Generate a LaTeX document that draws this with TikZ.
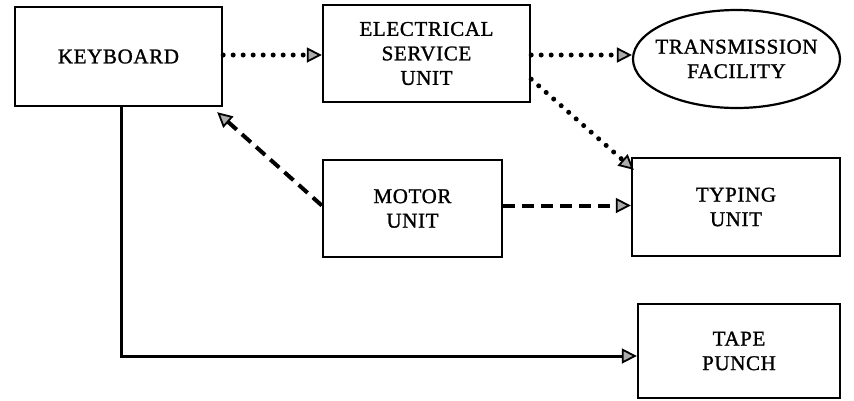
\documentclass[tikz,border=0pt]{standalone}
\usepackage{fontspec}
\setmainfont{Liberation Serif}[LetterSpace=3,FakeBold=1.2]
\usetikzlibrary{arrows.meta,shapes.geometric,calc}
\begin{document}
\begin{tikzpicture}[x=1pt,y=-1pt,
  box/.style={draw, line width=2.4pt, rectangle, inner sep=0pt, align=center,
    font=\fontsize{21}{24.5}\selectfont},
  oval/.style={draw, line width=2.2pt, ellipse, inner xsep=-10pt, inner ysep=0pt, align=center,
    font=\fontsize{21}{24.5}\selectfont},
  tip/.style={-{Triangle[length=15pt,width=15pt,fill=gray!65,line width=1.8pt]}},
  dotline/.style={tip, line width=5pt, line cap=round, dash pattern=on 0pt off 10pt},
  dashline/.style={tip, line width=4pt, dash pattern=on 12pt off 7pt},
  solidline/.style={tip, line width=3pt}]
\useasboundingbox (0,0) rectangle (854,400);
\node[box, minimum width=207pt, minimum height=99pt] (kb) at (118.5,56.5) {KEYBOARD};
\node[box, minimum width=207pt, minimum height=97pt] (esu) at (426.5,53.5) {ELECTRICAL\\SERVICE\\UNIT};
\node[oval, minimum width=207pt, minimum height=98pt] (tf) at (736.5,59) {TRANSMISSION\\FACILITY};
\node[box, minimum width=179pt, minimum height=97pt] (mu) at (412.5,208.5) {MOTOR\\UNIT};
\node[box, minimum width=208pt, minimum height=98pt] (tu) at (736,207) {TYPING\\UNIT};
\node[box, minimum width=202pt, minimum height=94pt] (tp) at (739,351) {TAPE\\PUNCH};
\coordinate (esuout) at ([yshift=24pt]esu.south east);
\coordinate (tuin) at ([xshift=3pt,yshift=-13pt]tu.north west);
\coordinate (kbin) at ([xshift=-6pt,yshift=-5pt]kb.south east);
\coordinate (tpin) at ([yshift=-5pt]tp.west);
\draw[dotline] (kb.east |- 0,55) -- (esu.west |- 0,55);
\draw[dotline] (esu.east |- 0,55) -- (tf.west |- 0,55);
\draw[dotline] (esuout) -- (tuin);
\draw[dashline] ([yshift=3pt]mu.west) -- (kbin);
\draw[dashline] ([yshift=3pt]mu.east) -- ([yshift=3pt]mu.east -| tu.west);
\draw[solidline] ([xshift=3pt]kb.south) |- (tpin);
\end{tikzpicture}
\end{document}
